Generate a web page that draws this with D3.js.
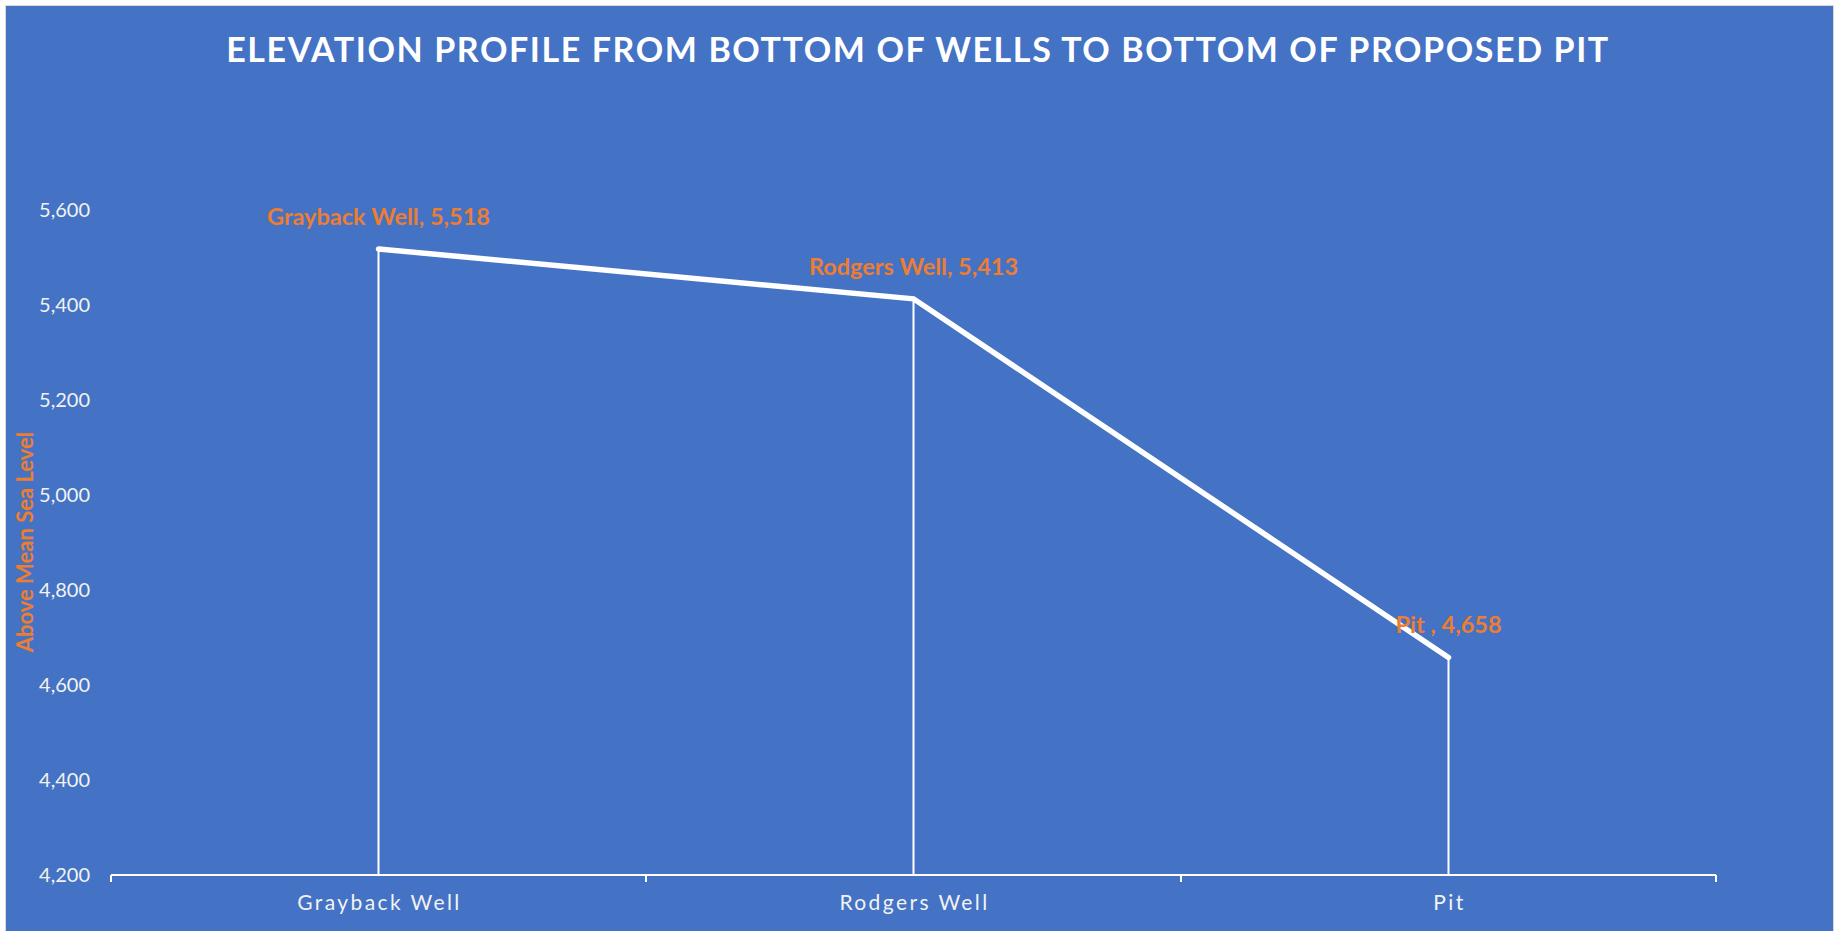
<!DOCTYPE html>
<html>
<head>
<meta charset="utf-8">
<script src="https://cdn.jsdelivr.net/npm/d3@7"></script>
<style>
  html, body { margin: 0; padding: 0; background: #fff; }
  svg { display: block; font-family: Lato, "Open Sans", sans-serif; }
</style>
</head>
<body>
<svg width="1837" height="931"></svg>
<script>
// chart values
const sites = ["Grayback Well", "Rodgers Well", "Pit"];
const labelNames = ["Grayback Well", "Rodgers Well", "Pit "];
const elevations = [5518, 5413, 4658];
const yTicks = [4200, 4400, 4600, 4800, 5000, 5200, 5400, 5600];
const title = "ELEVATION PROFILE FROM BOTTOM OF WELLS TO BOTTOM OF PROPOSED PIT";
const yTitle = "Above Mean Sea Level";

const width = 1837;
const height = 931;
const margin = { top: 210, right: 121, bottom: 56, left: 111 };

const blue = "#4472c4";
const orange = "#ed7d31";

const svg = d3.select("svg");

svg.append("rect")
  .attr("x", 5.5)
  .attr("y", 5.5)
  .attr("width", 1828)
  .attr("height", 940)
  .attr("fill", blue)
  .attr("stroke", "#d9d9d9")
  .attr("stroke-width", 1);

const x = d3.scaleBand()
  .domain(sites)
  .range([margin.left, width - margin.right]);

const y = d3.scaleLinear()
  .domain([4200, 5600])
  .range([height - margin.bottom, margin.top]);

const data = sites.map((s, i) => ({ site: s, label: labelNames[i], value: elevations[i] }));
const cx = d => x(d.site) + x.bandwidth() / 2;

// title, letter-spaced to span the same width as the original
const titleText = svg.append("text")
  .attr("x", 918)
  .attr("y", 62)
  .attr("text-anchor", "middle")
  .attr("fill", "#fff")
  .attr("font-size", 34)
  .attr("font-weight", 700)
  .text(title);
const natural = titleText.node().getComputedTextLength();
titleText.attr("letter-spacing", (1382 - natural) / (title.length - 1));

// y tick labels (no axis line)
svg.append("g")
  .selectAll("text")
  .data(yTicks)
  .enter()
  .append("text")
  .attr("x", 90)
  .attr("y", d => y(d))
  .attr("dy", "0.35em")
  .attr("text-anchor", "end")
  .attr("fill", "#f2f2f2")
  .attr("font-size", 20)
  .text(d => d3.format(",")(d));

svg.append("text")
  .attr("transform", `translate(33,${542})rotate(-90)`)
  .attr("text-anchor", "middle")
  .attr("fill", orange)
  .attr("font-size", 22)
  .attr("font-weight", 700)
  .text(yTitle);

// drop lines from each point to the axis
svg.append("g")
  .selectAll("line")
  .data(data)
  .enter()
  .append("line")
  .attr("x1", cx)
  .attr("x2", cx)
  .attr("y1", d => y(d.value))
  .attr("y2", y(4200))
  .attr("stroke", "#fff")
  .attr("stroke-width", 2);

// x axis: line with ticks at band edges
const xAxis = svg.append("g")
  .attr("transform", `translate(0,${y(4200)})`);

const edges = sites.map(s => x(s)).concat([x.range()[1]]);
xAxis.append("line")
  .attr("x1", x.range()[0])
  .attr("x2", x.range()[1])
  .attr("stroke", "#fff")
  .attr("stroke-width", 2);
xAxis.selectAll(".tick")
  .data(edges)
  .enter()
  .append("line")
  .attr("class", "tick")
  .attr("x1", d => d)
  .attr("x2", d => d)
  .attr("y1", 0)
  .attr("y2", 7)
  .attr("stroke", "#fff")
  .attr("stroke-width", 2);
xAxis.selectAll("text")
  .data(sites)
  .enter()
  .append("text")
  .attr("x", d => x(d) + x.bandwidth() / 2 + 1)
  .attr("y", 35)
  .attr("text-anchor", "middle")
  .attr("fill", "#f2f2f2")
  .attr("font-size", 21)
  .attr("letter-spacing", 2.4)
  .text(d => d);

// profile line
const line = d3.line()
  .x(cx)
  .y(d => y(d.value));

svg.append("path")
  .datum(data)
  .attr("d", line)
  .attr("fill", "none")
  .attr("stroke", "#fff")
  .attr("stroke-width", 5.5)
  .attr("stroke-linecap", "round")
  .attr("stroke-linejoin", "miter");

// data labels
svg.append("g")
  .selectAll("text")
  .data(data)
  .enter()
  .append("text")
  .attr("x", cx)
  .attr("y", d => y(d.value) - 24)
  .attr("text-anchor", "middle")
  .attr("fill", orange)
  .attr("font-size", 23.5)
  .attr("font-weight", 700)
  .text(d => `${d.label}, ${d3.format(",")(d.value)}`);
</script>
</body>
</html>
